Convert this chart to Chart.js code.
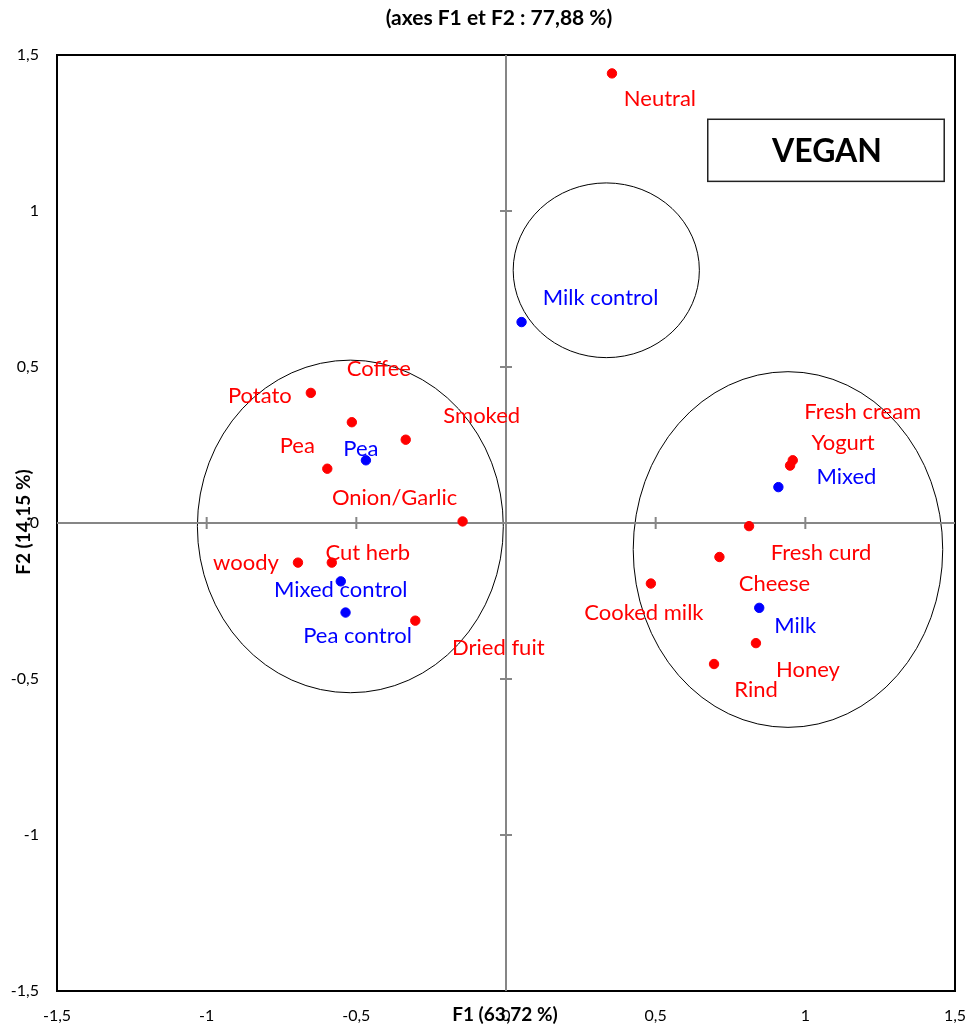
<!DOCTYPE html>
<html>
<head>
<meta charset="utf-8">
<script src="https://cdn.jsdelivr.net/npm/chart.js@4.4.1/dist/chart.umd.min.js"></script>
<style>
  html, body { margin: 0; padding: 0; background: #fff; }
  #wrap { width: 968px; height: 1030px; }
</style>
</head>
<body>
<div id="wrap"><canvas id="pca" width="968" height="1030"></canvas></div>
<script>
// --- data ---
const redNames = ['Neutral', 'Potato', 'Coffee', 'Smoked', 'Pea', 'Onion/Garlic', 'woody', 'Cut herb', 'Dried fuit',
                  'Fresh cream', 'Yogurt', 'Fresh curd', 'Cheese', 'Cooked milk', 'Honey', 'Rind'];
const redX = [0.354, -0.652, -0.515, -0.335, -0.597, -0.145, -0.695, -0.582, -0.303,
              0.958, 0.949, 0.812, 0.713, 0.484, 0.835, 0.695];
const redY = [1.441, 0.417, 0.323, 0.267, 0.174, 0.005, -0.127, -0.127, -0.313,
              0.201, 0.184, -0.010, -0.109, -0.194, -0.385, -0.452];

const blueNames = ['Milk control', 'Pea', 'Mixed', 'Mixed control', 'Pea control', 'Milk'];
const blueX = [0.052, -0.468, 0.910, -0.552, -0.536, 0.846];
const blueY = [0.644, 0.201, 0.115, -0.187, -0.287, -0.272];

const axisTicks = [-1.5, -1, -0.5, 0, 0.5, 1, 1.5];

// group ellipses, in axis units: centre x, centre y, radius x, radius y
const ellCX = [-0.520, 0.335, 0.942];
const ellCY = [-0.011, 0.810, -0.085];
const ellRX = [0.511, 0.311, 0.517];
const ellRY = [0.533, 0.280, 0.570];

// label placement (pixels from the dot to the text centre)
const redLabelOffsets = [[48, 25], [-51, 3], [27, -53], [76, -24], [-30, -23], [-68, -24], [-52, 0], [36, -10], [83, 27],
                         [70, -48], [53, -23], [72, 27], [55, 27], [-7, 29], [52, 27], [42, 26]];
const blueLabelOffsets = [[79, -24], [-5, -11], [68, -10], [0, 9], [12, 23], [36, 18]];

const FONT = 'Lato, "Open Sans", "DejaVu Sans", sans-serif';
const fmt = v => String(v).replace('.', ',');

const toPts = (xs, ys) => xs.map((x, i) => ({ x, y: ys[i] }));

// inner axes, ellipses, box, frame, labels
const decor = {
  id: 'decor',
  beforeDatasetsDraw(chart) {
    const { ctx, chartArea: a, scales: { x, y } } = chart;
    ctx.save();
    // ellipses
    ctx.strokeStyle = '#000';
    ctx.lineWidth = 1;
    ellCX.forEach((cx, i) => {
      const px = x.getPixelForValue(cx), py = y.getPixelForValue(ellCY[i]);
      const rx = Math.abs(x.getPixelForValue(cx + ellRX[i]) - px);
      const ry = Math.abs(y.getPixelForValue(ellCY[i] + ellRY[i]) - py);
      ctx.beginPath();
      ctx.ellipse(px, py, rx, ry, 0, 0, Math.PI * 2);
      ctx.stroke();
    });
    // frame
    ctx.lineWidth = 2;
    ctx.strokeStyle = '#000';
    ctx.strokeRect(a.left, a.top, a.right - a.left, a.bottom - a.top);
    // inner axes through zero
    const x0 = x.getPixelForValue(0), y0 = y.getPixelForValue(0);
    ctx.strokeStyle = '#868686';
    ctx.lineWidth = 2;
    ctx.beginPath();
    ctx.moveTo(x0, a.top); ctx.lineTo(x0, a.bottom);
    ctx.moveTo(a.left, y0); ctx.lineTo(a.right, y0);
    axisTicks.forEach(t => {
      if (t === 0 || Math.abs(t) === 1.5) return;
      const tx = x.getPixelForValue(t), ty = y.getPixelForValue(t);
      ctx.moveTo(tx, y0 - 6); ctx.lineTo(tx, y0 + 6);
      ctx.moveTo(x0 - 6, ty); ctx.lineTo(x0 + 6, ty);
    });
    ctx.stroke();
    // VEGAN box
    const bx1 = x.getPixelForValue(0.674), bx2 = x.getPixelForValue(1.464);
    const by1 = y.getPixelForValue(1.294), by2 = y.getPixelForValue(1.095);
    ctx.strokeStyle = '#222';
    ctx.lineWidth = 1.5;
    ctx.strokeRect(bx1, by1, bx2 - bx1, by2 - by1);
    ctx.fillStyle = '#000';
    ctx.font = 'bold 32px ' + FONT;
    ctx.textAlign = 'center';
    ctx.textBaseline = 'middle';
    ctx.fillText('VEGAN', (bx1 + bx2) / 2 + 1, (by1 + by2) / 2 + 1);
    ctx.restore();
  },
  afterDatasetsDraw(chart) {
    const { ctx } = chart;
    ctx.save();
    ctx.font = '22px ' + FONT;
    ctx.textAlign = 'center';
    ctx.textBaseline = 'middle';
    const offs = [redLabelOffsets, blueLabelOffsets];
    chart.data.datasets.forEach((ds, di) => {
      const meta = chart.getDatasetMeta(di);
      ctx.fillStyle = ds.backgroundColor;
      meta.data.forEach((el, i) => {
        const [dx, dy] = offs[di][i];
        ctx.fillText(ds.names[i], el.x + dx, el.y + dy);
      });
    });
    // titles
    ctx.fillStyle = '#000';
    ctx.font = 'bold 21px ' + FONT;
    ctx.fillText('(axes F1 et F2 : 77,88 %)', 499, 18);
    ctx.font = 'bold 19px ' + FONT;
    ctx.fillText('F1 (63,72 %)', 505, 1015);
    ctx.translate(24, 522);
    ctx.rotate(-Math.PI / 2);
    ctx.fillText('F2 (14,15 %)', 0, 0);
    ctx.restore();
  }
};

new Chart(document.getElementById('pca'), {
  type: 'scatter',
  data: {
    datasets: [
      { label: 'Attributes', names: redNames, data: toPts(redX, redY),
        backgroundColor: '#ff0000', borderColor: '#ff0000', pointRadius: 4.7, pointHoverRadius: 4.7 },
      { label: 'Samples', names: blueNames, data: toPts(blueX, blueY),
        backgroundColor: '#0000ff', borderColor: '#0000ff', pointRadius: 4.7, pointHoverRadius: 4.7 }
    ]
  },
  options: {
    responsive: false,
    animation: false,
    devicePixelRatio: 1,
    layout: { padding: { top: 55, right: 13, left: 0, bottom: 0 } },
    plugins: { legend: { display: false }, tooltip: { enabled: false } },
    scales: {
      x: {
        min: -1.5, max: 1.5,
        afterFit: s => { s.height = 39; s.paddingLeft = 0; s.paddingRight = 0; },
        afterBuildTicks: s => { s.ticks = axisTicks.map(v => ({ value: v })); },
        grid: { display: false, drawTicks: false },
        border: { display: false },
        ticks: { padding: 15, color: '#000', font: { family: FONT, size: 16 }, callback: fmt, maxRotation: 0, autoSkip: false }
      },
      y: {
        min: -1.5, max: 1.5,
        afterFit: s => { s.width = 57; },
        afterBuildTicks: s => { s.ticks = axisTicks.map(v => ({ value: v })); },
        grid: { display: false, drawTicks: false },
        border: { display: false },
        ticks: { padding: 18, color: '#000', font: { family: FONT, size: 16 }, callback: fmt, autoSkip: false }
      }
    }
  },
  plugins: [decor]
});
</script>
</body>
</html>
